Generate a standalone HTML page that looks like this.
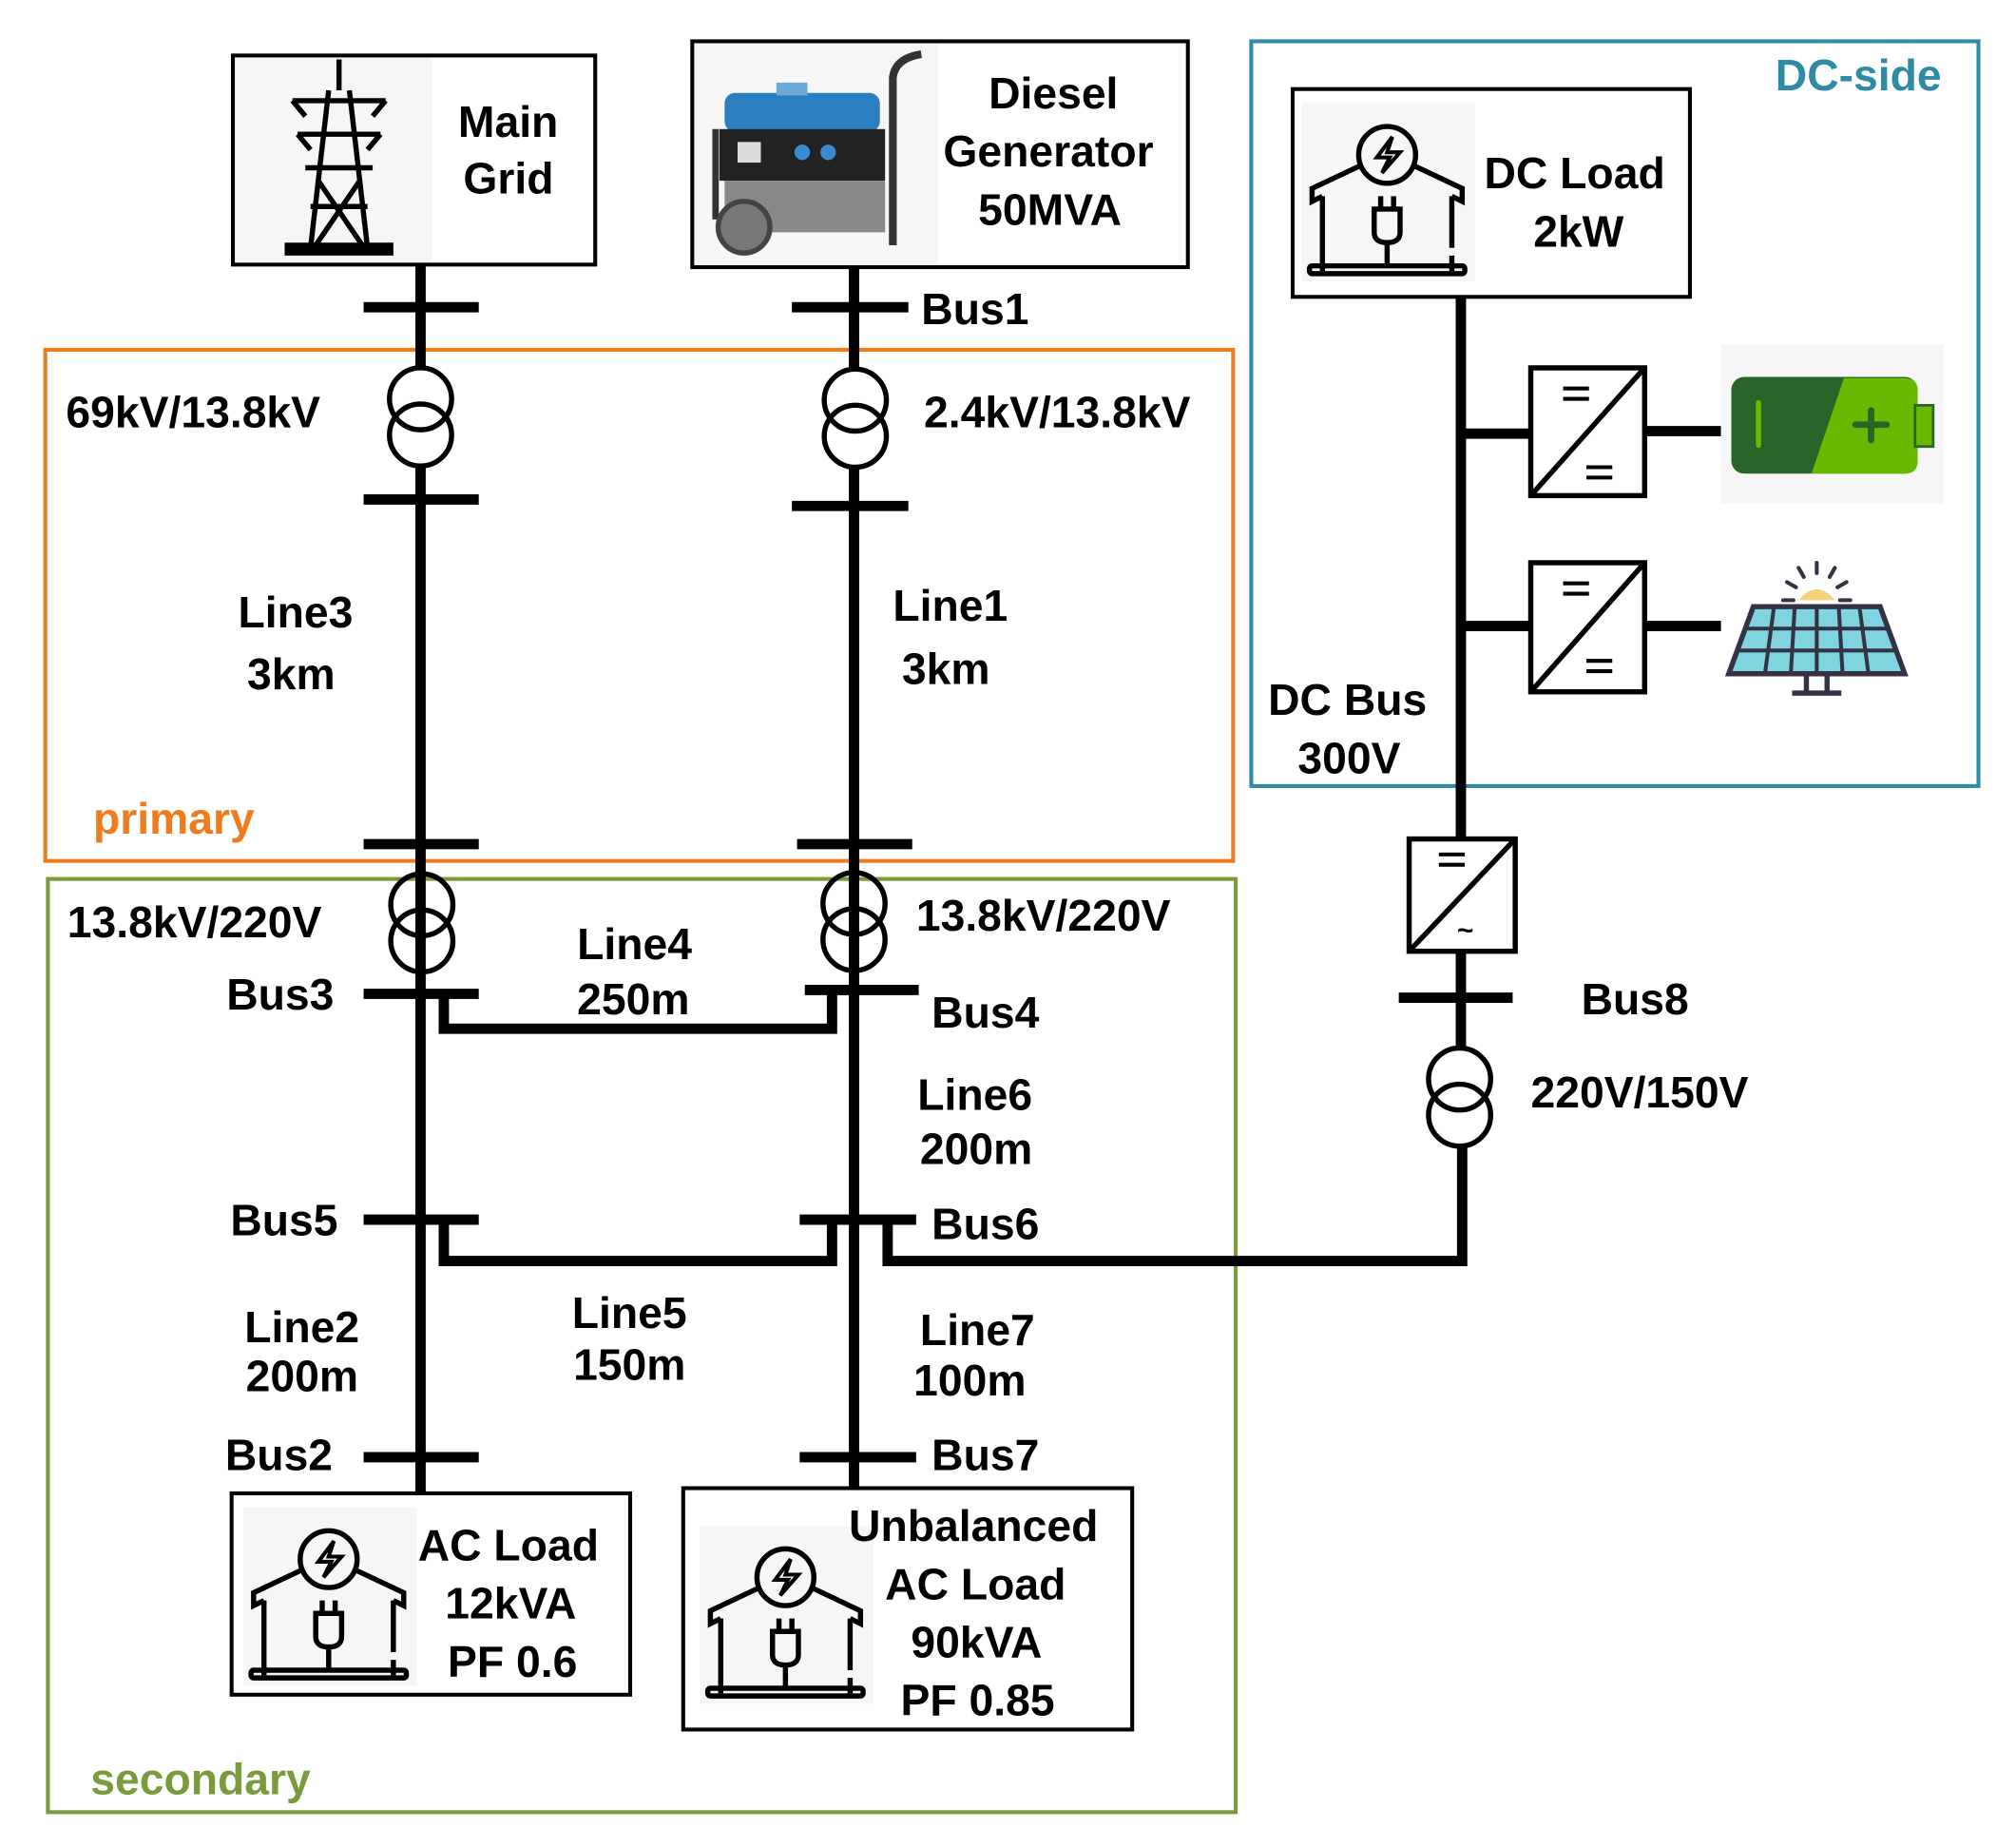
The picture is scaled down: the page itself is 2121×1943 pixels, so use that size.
<!DOCTYPE html>
<html><head><meta charset="utf-8"><style>
html,body{margin:0;padding:0;background:#fff;}
svg{display:block;}
text{font-family:"Liberation Sans",Arial,sans-serif;font-weight:bold;font-size:34px;fill:#000;}
</style></head><body>
<svg width="2121" height="1943" viewBox="0 0 1558 1431" preserveAspectRatio="none" xmlns="http://www.w3.org/2000/svg">
<defs>
<g id="house" fill="none" stroke="#000" stroke-width="4">
<rect x="-4" y="-8" width="134" height="138" fill="#f6f6f6" stroke="none"/>
<circle cx="62" cy="32" r="22"/>
<path d="M66 18 L54 34 L64 34 L58 46 L72 30 L62 30 Z" stroke-width="3"/>
<path d="M42 40 L4 58 L4 68 L12 64 M82 40 L120 58 L120 68 L112 64"/>
<path d="M12 64 V122 M112 64 V104 M112 110 V122"/>
<rect x="2" y="118" width="120" height="6" rx="2"/>
<path d="M52 74 H72 V92 Q72 100 62 100 Q52 100 52 92 Z M57 64 V74 M67 64 V74 M62 100 V118"/>
</g>
</defs>

<rect x="35" y="271" width="918" height="396" fill="none" stroke="#ef7b1c" stroke-width="3"/>
<text x="72" y="646" style="fill:#ef7b1c">primary</text>
<rect x="37" y="681" width="918" height="723" fill="none" stroke="#7a9a3c" stroke-width="3"/>
<text x="70" y="1390" style="fill:#7a9a3c">secondary</text>
<rect x="967" y="32" width="562" height="577" fill="none" stroke="#2e8ba6" stroke-width="3"/>
<text x="1372" y="70" style="fill:#2e8ba6">DC-side</text>

<rect x="180" y="43" width="280" height="162" fill="#fff" stroke="#000" stroke-width="3"/>
<rect x="182" y="45" width="152" height="158" fill="#f6f6f6"/>
<g stroke="#000" stroke-width="4" fill="none">
<path d="M262 46 V70 M226 78 H298 M230 104 H294 M236 130 H288 M254 70 L240 192 M270 70 L284 192 M246 140 L280 190 M278 140 L244 190 M240 160 H284"/>
<path d="M226 78 L236 90 M298 78 L288 90 M230 104 L240 116 M294 104 L284 116"/>
<rect x="222" y="190" width="80" height="6" fill="#000"/>
</g>
<text x="354" y="106">Main</text>
<text x="358" y="150">Grid</text>

<rect x="535" y="32" width="383" height="175" fill="#fff" stroke="#000" stroke-width="3"/>
<rect x="537" y="34" width="188" height="171" fill="#f6f6f6"/>
<path d="M690 190 V60 Q692 45 712 42" stroke="#333" stroke-width="6" fill="none"/>
<path d="M553 100 V170" stroke="#333" stroke-width="5"/>
<rect x="560" y="72" width="120" height="30" rx="8" fill="#2b7fc0"/>
<rect x="600" y="64" width="24" height="10" fill="#6aa9d8"/>
<rect x="556" y="100" width="128" height="40" fill="#222"/>
<rect x="570" y="110" width="18" height="16" fill="#ddd"/>
<circle cx="620" cy="118" r="6" fill="#3a8ad0"/><circle cx="640" cy="118" r="6" fill="#3a8ad0"/>
<rect x="560" y="140" width="124" height="40" fill="#888"/>
<circle cx="575" cy="176" r="20" fill="#777" stroke="#444" stroke-width="4"/>
<text x="764" y="84">Diesel</text>
<text x="729" y="129">Generator</text>
<text x="756" y="174">50MVA</text>

<g stroke="#000" stroke-width="8" fill="none">
<path d="M325 205 V284 M325 361 V1157"/>
<path d="M660 207 V286 M660 362 V1154"/>
<path d="M281 238 H370 M281 387 H370 M281 654 H370 M281 770 H370 M281 945 H370 M281 1129 H370"/>
<path d="M612 238 H702 M612 392 H702 M616 654 H705 M622 767 H710 M618 945 H708 M618 1129 H708"/>
<path d="M343 770 V797 H643 V767"/>
<path d="M343 945 V977 H643 V945"/>
<path d="M686 945 V977 H1130 V888"/>
<path d="M1129 230 V650 M1129 336 H1183 M1129 485 H1183 M1271 334 H1330 M1271 485 H1330"/>
<path d="M1129 737 V812 M1081 773 H1169"/>
</g>
<g stroke="#000" stroke-width="4" fill="none">
<circle cx="325" cy="309" r="24"/><circle cx="325" cy="337" r="24"/>
<circle cx="661" cy="310" r="24"/><circle cx="661" cy="338" r="24"/>
<circle cx="326" cy="701" r="24"/><circle cx="326" cy="729" r="24"/>
<circle cx="660" cy="700" r="24"/><circle cx="660" cy="728" r="24"/>
<circle cx="1128" cy="836" r="24"/><circle cx="1128" cy="864" r="24"/>
</g>

<g stroke="#000" stroke-width="4" fill="#fff">
<rect x="1183" y="285" width="88" height="99"/><path d="M1183 384 L1271 285"/>
<rect x="1183" y="436" width="88" height="100"/><path d="M1183 536 L1271 436"/>
<rect x="1089" y="650" width="82" height="87"/><path d="M1089 737 L1171 650"/>
</g>
<g stroke="#000" stroke-width="3">
<path d="M1208 301 H1228 M1208 309 H1228 M1226 362 H1246 M1226 370 H1246"/>
<path d="M1208 452 H1228 M1208 460 H1228 M1226 512 H1246 M1226 520 H1246"/>
<path d="M1112 662 H1132 M1112 670 H1132"/>
</g>
<text x="1126" y="728" style="font-size:22px">~</text>

<rect x="1330" y="267" width="172" height="123" fill="#f6f6f6"/>
<rect x="1338" y="292" width="144" height="75" rx="10" fill="#2a6429"/>
<path d="M1425 293 H1472 Q1482 293 1482 303 V357 Q1482 367 1472 367 H1400 Z" fill="#6ab800"/>
<rect x="1480" y="314" width="14" height="32" fill="#6ab800" stroke="#2a6429" stroke-width="2"/>
<path d="M1446 318 V341 M1434 329 H1458" stroke="#2a6429" stroke-width="5" stroke-linecap="round"/>
<path d="M1359 312 V345" stroke="#6ab800" stroke-width="4" stroke-linecap="round"/>

<path d="M1390 465 Q1404 448 1418 465 Z" fill="#f6d27a"/>
<g stroke="#334" stroke-width="3" stroke-linecap="round">
<path d="M1404 436 V444 M1390 440 L1394 447 M1418 440 L1414 447 M1381 451 L1388 455 M1427 451 L1420 455 M1378 465 H1386 M1422 465 H1430"/>
</g>
<path d="M1355 470 H1453 L1472 522 H1336 Z" fill="#7fd4e0" stroke="#334" stroke-width="4"/>
<g stroke="#334" stroke-width="3">
<path d="M1350 487 H1459 M1343 504 H1466 M1371 470 L1364 522 M1387 470 L1384 522 M1404 470 V522 M1421 470 L1424 522 M1437 470 L1444 522"/>
<path d="M1396 522 V535 M1412 522 V535 M1385 537 H1423" stroke-width="4"/>
</g>

<rect x="999" y="69" width="307" height="161" fill="#fff" stroke="#000" stroke-width="3"/>
<use href="#house" transform="translate(1010,88)"/>
<text x="1147" y="146">DC Load</text>
<text x="1185" y="191">2kW</text>

<rect x="179" y="1157" width="308" height="156" fill="#fff" stroke="#000" stroke-width="3"/>
<use href="#house" transform="translate(192,1176)"/>
<text x="323" y="1209">AC Load</text>
<text x="344" y="1254">12kVA</text>
<text x="346" y="1299">PF 0.6</text>

<rect x="528" y="1153" width="347" height="187" fill="#fff" stroke="#000" stroke-width="3"/>
<use href="#house" transform="translate(545,1190)"/>
<text x="656" y="1194">Unbalanced</text>
<text x="684" y="1239">AC Load</text>
<text x="704" y="1284">90kVA</text>
<text x="696" y="1329">PF 0.85</text>

<text x="712" y="251">Bus1</text>
<text x="51" y="331">69kV/13.8kV</text>
<text x="714" y="331">2.4kV/13.8kV</text>
<text x="184" y="486">Line3</text>
<text x="191" y="534">3km</text>
<text x="690" y="481">Line1</text>
<text x="697" y="530">3km</text>
<text x="52" y="726">13.8kV/220V</text>
<text x="708" y="721">13.8kV/220V</text>
<text x="175" y="782">Bus3</text>
<text x="446" y="743">Line4</text>
<text x="446" y="786">250m</text>
<text x="720" y="796">Bus4</text>
<text x="709" y="860">Line6</text>
<text x="711" y="902">200m</text>
<text x="178" y="957">Bus5</text>
<text x="720" y="960">Bus6</text>
<text x="189" y="1040">Line2</text>
<text x="190" y="1078">200m</text>
<text x="442" y="1029">Line5</text>
<text x="443" y="1069">150m</text>
<text x="711" y="1042">Line7</text>
<text x="706" y="1081">100m</text>
<text x="174" y="1139">Bus2</text>
<text x="720" y="1139">Bus7</text>
<text x="980" y="554">DC Bus</text>
<text x="1003" y="599">300V</text>
<text x="1222" y="786">Bus8</text>
<text x="1183" y="858">220V/150V</text>
</svg>
</body></html>
